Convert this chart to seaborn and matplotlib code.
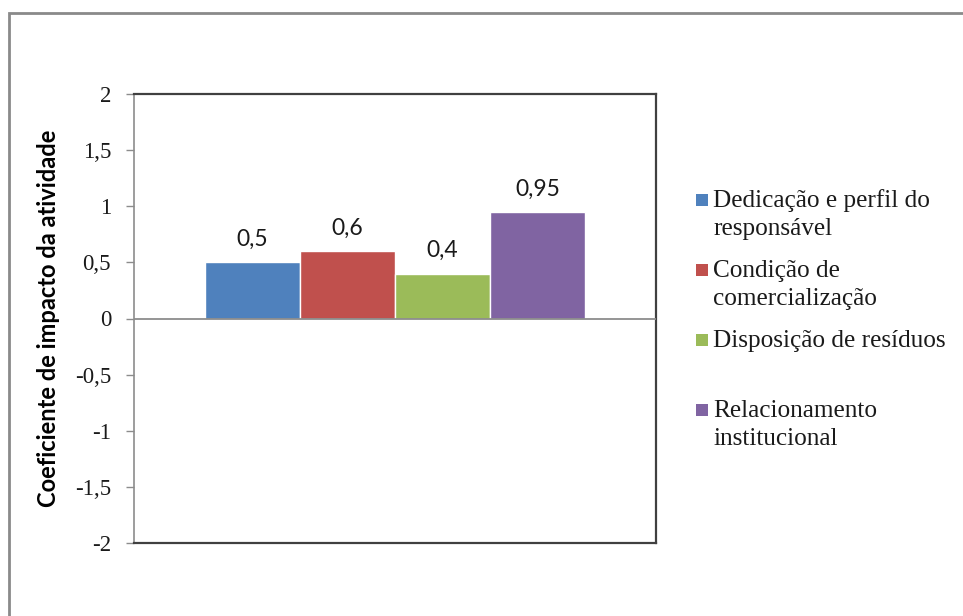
import matplotlib
matplotlib.use("Agg")
import matplotlib.pyplot as plt
from matplotlib.patches import Rectangle
import pandas as pd
import seaborn as sns

# Impact coefficient of each factor on the activity
fatores = [
    "Dedicação e perfil do\nresponsável",
    "Condição de\ncomercialização",
    "Disposição de resíduos",
    "Relacionamento\ninstitucional",
]
valores = [0.5, 0.6, 0.4, 0.95]
cores = ["#4F81BD", "#C0504D", "#9BBB59", "#8064A2"]
yticks = [-2, -1.5, -1, -0.5, 0, 0.5, 1, 1.5, 2]
ylabel = "Coeficiente de impacto da atividade"

df = pd.DataFrame({"grupo": ["g"] * len(fatores), "fator": fatores, "valor": valores})

sns.set_theme(style="white")
W, H = 963, 616
fig = plt.figure(figsize=(W / 100, H / 100), dpi=100)
fig.patch.set_facecolor("white")

# outer chart frame
fig.add_artist(Rectangle((9 / W, -0.1), 1.2, 1 - 13 / H + 0.1, transform=fig.transFigure,
                         fill=False, edgecolor="#8a8a8a", linewidth=2.0))

ax = fig.add_axes([134 / W, (H - 543) / H, 522 / W, 449 / H])
sns.barplot(data=df, x="grupo", y="valor", hue="fator", hue_order=fatores,
            palette=cores, width=0.728, saturation=1, legend=False, ax=ax)
ax.set_xlim(-0.5, 0.5)
ax.set_ylim(-2, 2)
ax.set_yticks(yticks)
ax.set_yticklabels([f"{v:g}".replace(".", ",") for v in yticks],
                   fontfamily="Liberation Serif", fontsize=16.5, color="#1a1a1a")
ax.set_xticks([])
ax.set_xlabel("")

for sp in ("top", "right", "bottom"):
    ax.spines[sp].set_visible(True)
    ax.spines[sp].set_color("#404040")
    ax.spines[sp].set_linewidth(1.6)
ax.spines["left"].set_color("#8c8c8c")
ax.spines["left"].set_linewidth(1.2)
ax.tick_params(axis="y", direction="out", length=5.5, width=1.0, color="#8c8c8c",
               pad=11, left=True)
ax.axhline(0, color="#8c8c8c", linewidth=1.3, zorder=3)

for cont, v in zip(ax.containers, valores):
    ax.bar_label(cont, labels=[f"{v:g}".replace(".", ",")], padding=9,
                 fontfamily="Lato", fontsize=16.5, color="#1a1a1a")

ax.set_ylabel(ylabel, fontfamily="Lato", fontweight="bold", fontsize=17, color="black")
ax.yaxis.set_label_coords(-0.142, 0.5)

# legend drawn beside the plot area, square aligned with the first text line
baselines = [207, 277, 347, 417]
line_step = 28
for nome, cor, yb in zip(fatores, cores, baselines):
    fig.add_artist(Rectangle((696 / W, (H - yb + 1) / H), 12 / W, 12 / H,
                             transform=fig.transFigure, facecolor=cor, edgecolor="none"))
    for i, linha in enumerate(nome.split("\n")):
        fig.text(713 / W, (H - yb - i * line_step) / H, linha,
                 fontfamily="Liberation Serif", fontsize=18.2, color="#1a1a1a",
                 va="baseline", ha="left", transform=fig.transFigure)

fig.savefig("out.png", dpi=100, facecolor="white")
